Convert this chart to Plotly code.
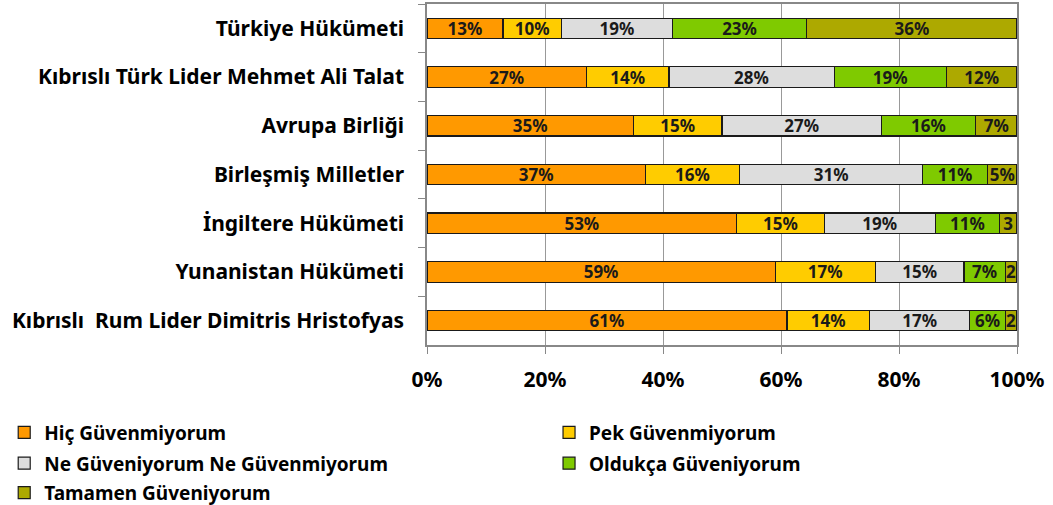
import plotly.graph_objects as go

# ---------------------------------------------------------------------------
# Data
# ---------------------------------------------------------------------------

institutions = [
    "Türkiye Hükümeti",
    "Kıbrıslı Türk Lider Mehmet Ali Talat",
    "Avrupa Birliği",
    "Birleşmiş Milletler",
    "İngiltere Hükümeti",
    "Yunanistan Hükümeti",
    "Kıbrıslı  Rum Lider Dimitris Hristofyas",
]

series_names = [
    "Hiç Güvenmiyorum",
    "Pek Güvenmiyorum",
    "Ne Güveniyorum Ne Güvenmiyorum",
    "Oldukça Güveniyorum",
    "Tamamen Güveniyorum",
]

hic = [13, 27, 35, 37, 53, 59, 61]
pek = [10, 14, 15, 16, 15, 17, 14]
ne_ne = [19, 28, 27, 31, 19, 15, 17]
olduk = [23, 19, 16, 11, 11, 7, 6]
tamamen = [36, 12, 7, 5, 3, 2, 2]

series_values = [hic, pek, ne_ne, olduk, tamamen]
colours = ["#FF9900", "#FFCC00", "#DDDDDD", "#7FCA00", "#ADA900"]

x_ticks = [0, 20, 40, 60, 80, 100]

FONT = "Noto Sans"

# legend laid out like the original: two columns, last item on its own row
legend_slot = ["legend", "legend2", "legend", "legend2", "legend3"]

fig = go.Figure()

for i, (name, vals, col) in enumerate(zip(series_names, series_values, colours)):
    # tiny segments in the original only show the clipped number
    labels = [f"{v}%" if v >= 5 else f"{v}" for v in vals]
    fig.add_trace(
        go.Bar(
            y=institutions,
            x=vals,
            name=name,
            orientation="h",
            marker=dict(color=col, line=dict(color="#1a1a1a", width=1.2)),
            text=labels,
            textposition="inside",
            insidetextanchor="middle",
            textangle=0,
            textfont=dict(family=FONT, size=17, color="#1a1a1a", weight="bold"),
            constraintext="none",
            width=0.42,
            legend=legend_slot[i],
            legendgroup=f"g{i}",
        )
    )

legend_common = dict(
    orientation="v",
    xref="container",
    xanchor="left",
    yref="container",
    yanchor="top",
    itemwidth=30,
    tracegroupgap=3,
    font=dict(family=FONT, size=19, color="black", weight="bold"),
    traceorder="grouped",
    bgcolor="rgba(0,0,0,0)",
)

fig.update_layout(
    barmode="stack",
    barnorm="percent",
    width=1053,
    height=505,
    plot_bgcolor="white",
    paper_bgcolor="white",
    margin=dict(l=427, r=36, t=4, b=160, autoexpand=False),
    font=dict(family=FONT, size=20, color="black"),
    legend=dict(x=0.004, y=0.181, **legend_common),
    legend2=dict(x=0.5214, y=0.181, **legend_common),
    legend3=dict(x=0.004, y=0.062, **legend_common),
    showlegend=True,
)

fig.update_xaxes(
    range=[0, 100],
    tickvals=x_ticks,
    ticktext=[f"{t}%" for t in x_ticks],
    tickfont=dict(family=FONT, size=21, weight="bold"),
    showgrid=True,
    gridcolor="#999999",
    gridwidth=1.2,
    showline=True,
    linecolor="#888888",
    linewidth=1.5,
    mirror=True,
    ticks="outside",
    ticklen=7,
    tickcolor="#888888",
    ticklabelstandoff=8,
    zeroline=False,
    automargin=False,
)

fig.update_yaxes(
    autorange="reversed",
    tickfont=dict(family=FONT, size=21, weight="bold"),
    showline=True,
    linecolor="#888888",
    linewidth=1.5,
    mirror=True,
    ticks="outside",
    tickson="boundaries",
    ticklen=7,
    tickcolor="#888888",
    ticklabelstandoff=17,
    showgrid=False,
    automargin=False,
)

fig.write_html(
    "out.html",
    config={"displayModeBar": False},
    post_script="document.body.style.margin='0';",
)
